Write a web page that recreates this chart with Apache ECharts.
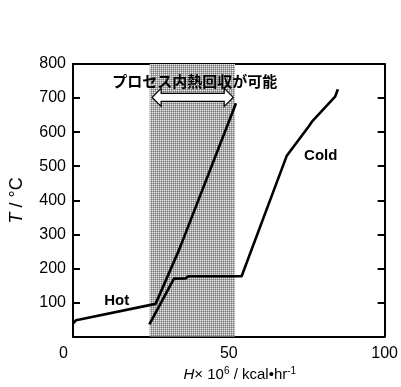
<!DOCTYPE html>
<html><head><meta charset="utf-8">
<script src="https://cdn.jsdelivr.net/npm/echarts@6/dist/echarts.min.js"></script>
<style>html,body{margin:0;padding:0;background:#fff}#c{width:401px;height:387px}</style>
</head><body><div id="c"></div>
<script>
// ---- data ----
const hotCurve = [[0,38],[1,48],[26.5,96],[34.1,256],[52.3,685]];
const coldCurve = [[24.5,36],[32.4,170],[36.2,171],[37,177],[54.1,177],[68.6,531],[75.8,619],[76.6,630],[84.1,704],[85,726]];
const shadeRange = [24.6, 52.0];
const arrowSpan = [25.4, 51.4];
const arrowT = 702;
const xTicks = [0, 50, 100];
const yTicks = [0, 100, 200, 300, 400, 500, 600, 700, 800];
const labelHot = {text:'Hot', at:[14, 105]};
const labelCold = {text:'Cold', at:[79.5, 530]};
const labelRegion = {text:'プロセス内熱回収が可能', at:[39.1, 750]};

const NUMFONT = '"Liberation Sans Narrow","Liberation Sans",Arial,sans-serif';
const JPFONT = '"Noto Sans CJK JP",sans-serif';

// fine grid pattern for shaded region
const pc = document.createElement('canvas');
pc.width = 2; pc.height = 2;
const g = pc.getContext('2d');
g.fillStyle = '#a8a8a8'; g.fillRect(0,0,2,2);
g.fillStyle = '#ececec'; g.fillRect(0,0,1,1);
g.fillStyle = '#7c7c7c'; g.fillRect(1,1,1,1);

const chart = echarts.init(document.getElementById('c'), null, {renderer:'canvas'});
const axisLine = {show:true, onZero:false, lineStyle:{color:'#000', width:2}};
function tick(){ return {show:true, inside:true, length:7, lineStyle:{color:'#000', width:2}}; }
const option = {
  animation:false,
  grid:{left:72, top:64, right:12, bottom:50, containLabel:false},
  xAxis:[{
    type:'value', min:xTicks[0], max:xTicks[xTicks.length-1], interval:50,
    axisLine:axisLine, splitLine:{show:false}, axisTick:tick(),
    axisLabel:{color:'#000', fontFamily:NUMFONT, fontSize:16, margin:9,
      formatter:v => v===0 ? '{z|0}' : String(v),
      rich:{z:{fontFamily:NUMFONT, fontSize:16, color:'#000', padding:[0,19,0,0]}}},
    name:'{i|H}{n|× 10}{s|6}{n| / kcal•hr}{s|-1}',
    nameLocation:'middle', nameGap:26,
    nameTextStyle:{padding:[0,0,0,22], rich:{
      i:{fontFamily:NUMFONT, fontStyle:'italic', fontSize:15, color:'#000'},
      n:{fontFamily:NUMFONT, fontSize:15, color:'#000'},
      s:{fontFamily:NUMFONT, fontSize:10, color:'#000', verticalAlign:'top', padding:[0,0,6,0]}
    }}
  },{
    type:'value', position:'top', min:0, max:100, interval:50,
    axisLine:axisLine, splitLine:{show:false}, axisLabel:{show:false}, axisTick:tick()
  }],
  yAxis:[{
    type:'value', min:yTicks[0], max:yTicks[yTicks.length-1], interval:100,
    axisLine:axisLine, splitLine:{show:false}, axisTick:tick(),
    axisLabel:{color:'#000', fontFamily:NUMFONT, fontSize:16, margin:7, showMinLabel:false},
    name:'{i|T}{n| / °C}', nameLocation:'middle', nameGap:47, nameRotate:90,
    nameTextStyle:{rich:{
      i:{fontFamily:NUMFONT, fontStyle:'italic', fontSize:18, color:'#000'},
      n:{fontFamily:NUMFONT, fontSize:18, color:'#000'}
    }}
  },{
    type:'value', position:'right', min:0, max:800, interval:100,
    axisLine:axisLine, splitLine:{show:false}, axisLabel:{show:false}, axisTick:tick()
  }],
  series:[{
    type:'line', name:'Hot', data:hotCurve, symbol:'none', z:5,
    lineStyle:{color:'#000', width:2.6},
    markArea:{silent:true, itemStyle:{color:{image:pc, repeat:'repeat'}},
      data:[[{xAxis:shadeRange[0], yAxis:0},{xAxis:shadeRange[1], yAxis:800}]]}
  },{
    type:'line', name:'Cold', data:coldCurve, symbol:'none', z:5,
    lineStyle:{color:'#000', width:2.6}
  }]
};
chart.setOption(option);

function px(p){ return chart.convertToPixel({xAxisIndex:0, yAxisIndex:0}, p); }
const a0 = px([arrowSpan[0], arrowT]), a1 = px([arrowSpan[1], arrowT]);
const cy = a0[1], hl = 9, hh = 9, sh = 4;
const arrowPts = [
  [a0[0], cy], [a0[0]+hl, cy-hh], [a0[0]+hl, cy-sh], [a1[0]-hl, cy-sh], [a1[0]-hl, cy-hh],
  [a1[0], cy], [a1[0]-hl, cy+hh], [a1[0]-hl, cy+sh], [a0[0]+hl, cy+sh], [a0[0]+hl, cy+hh]
];
const ph = px(labelHot.at), pcold = px(labelCold.at), pr = px(labelRegion.at);
chart.setOption({graphic:[
  {type:'polygon', shape:{points:arrowPts}, style:{fill:'#fff', stroke:'#000', lineWidth:1.2}, z:10},
  {type:'text', x:ph[0], y:ph[1], style:{text:labelHot.text, font:'bold 15px '+NUMFONT, fill:'#000', align:'center', verticalAlign:'middle'}, z:10},
  {type:'text', x:pcold[0], y:pcold[1], style:{text:labelCold.text, font:'bold 15px '+NUMFONT, fill:'#000', align:'center', verticalAlign:'middle'}, z:10},
  {type:'text', x:pr[0], y:pr[1], style:{text:labelRegion.text, font:'bold 15px '+JPFONT, fill:'#000', align:'center', verticalAlign:'middle'}, z:10}
]});
</script></body></html>
